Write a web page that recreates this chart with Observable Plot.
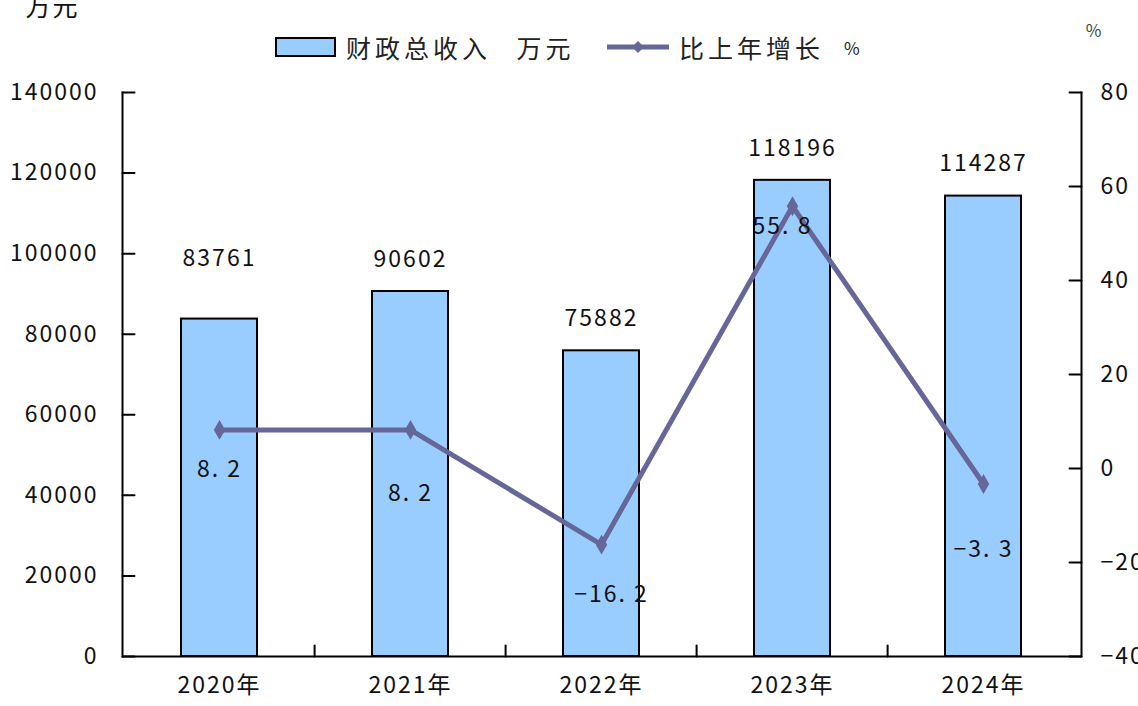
<!DOCTYPE html>
<html>
<head>
<meta charset="utf-8">
<script src="https://cdn.jsdelivr.net/npm/d3@7"></script>
<script src="https://cdn.jsdelivr.net/npm/@observablehq/plot@0.6"></script>
<style>
  body { margin: 0; background: #fff; }
  #wrap { position: relative; width: 1138px; height: 706px; overflow: hidden;
          font-family: "Noto Sans CJK SC", "DejaVu Sans", sans-serif; color: #111; }
  #wrap svg { position: absolute; left: 0; top: 0; }
  .leg { position: absolute; top: 31px; height: 32px; display: flex; align-items: center;
         font-size: 25px; letter-spacing: 4px; word-spacing: 16px; color: #222; z-index: 2; white-space: pre; }
</style>
</head>
<body>
<div id="wrap">
  <div class="leg" style="left:275px;">
    <span style="display:inline-block;width:57px;height:16px;background:#99CCFF;border:2px solid #000;margin-right:10px;"></span>
    <span id="leg1"></span>
  </div>
  <div class="leg" style="left:605px;">
    <svg width="66" height="20" style="position:static;margin-right:8px;">
      <line x1="2" y1="10" x2="64" y2="10" stroke="#666699" stroke-width="5"/>
      <path d="M33,4 L39,10 L33,16 L27,10 Z" fill="#666699"/>
    </svg>
    <span id="leg2"></span><span id="leg2u" style="font-size:17px;margin-left:20px;"></span>
  </div>
</div>
<script>
// ---- data ----
const years = ["2020年", "2021年", "2022年", "2023年", "2024年"];
const revenue = [83761, 90602, 75882, 118196, 114287];   // 财政总收入 万元
const growth = [8.2, 8.2, -16.2, 55.8, -3.3];            // 比上年增长 %
const leftTicks = [0, 20000, 40000, 60000, 80000, 100000, 120000, 140000];
const rightTicks = [-40, -20, 0, 20, 40, 60, 80];
const seriesNames = ["财政总收入 万元", "比上年增长", "%"];
const unitLeft = "万元";
const unitRight = "%";

document.getElementById("leg1").textContent = seriesNames[0];
document.getElementById("leg2").textContent = seriesNames[1];
document.getElementById("leg2u").textContent = seriesNames[2];

const yMax = leftTicks[leftTicks.length - 1];
const pMin = rightTicks[0], pMax = rightTicks[rightTicks.length - 1];
const toY = p => (p - pMin) / (pMax - pMin) * yMax;
const fromY = v => Math.round(v / yMax * (pMax - pMin) + pMin);
const fmt = d3.format("d");

const data = years.map((year, i) => ({year, revenue: revenue[i], growth: growth[i], i}));
const pctLabel = v => fmt(Math.trunc(v)).replace(/^0$/, v < 0 ? "−0" : "0") + ". " + String(Math.round(Math.abs(v) * 10) % 10);

const lineColor = "#666699";
const tickShape = {draw(context, l) { context.moveTo(0, 0); context.lineTo(0, -l); }};
const W = 1138, H = 706, mL = 122, mR = 57, mT = 92, mB = 50;
const step = (W - mL - mR) / years.length;

// per-label offsets (style)
const growthLabelOffsets = [[0, 40], [0, 64], [10, 50], [-10, 20], [0, 66]];

const marks = [
  Plot.barY(data, {x: "year", y: "revenue", fill: "#99CCFF", stroke: "#000", strokeWidth: 2}),
  Plot.ruleY([0], {stroke: "#000", strokeWidth: 2}),
  Plot.frame({anchor: "left", stroke: "#000", strokeWidth: 2}),
  Plot.frame({anchor: "right", stroke: "#000", strokeWidth: 2}),
  // inward ticks
  Plot.vector(leftTicks, {y: d => d, frameAnchor: "left", rotate: 90, length: 12, anchor: "start", shape: tickShape, stroke: "#000", strokeWidth: 2}),
  Plot.vector(rightTicks, {y: d => toY(d), frameAnchor: "right", rotate: -90, length: 12, anchor: "start", shape: tickShape, stroke: "#000", strokeWidth: 2}),
  Plot.vector(years.slice(1), {x: d => d, y: 0, dx: -step / 2, rotate: 0, length: 11, anchor: "start", shape: tickShape, stroke: "#000", strokeWidth: 2}),
  // axes labels
  Plot.axisY({anchor: "left", ticks: leftTicks, tickSize: 0, tickPadding: 24, tickFormat: d => String(d), label: null}),
  Plot.axisY({anchor: "right", ticks: rightTicks.map(toY), tickSize: 0, tickPadding: 19, tickFormat: v => fmt(fromY(v)), label: null}),
  Plot.axisX({tickSize: 0, tickPadding: 20, label: null}),
  // line
  Plot.line(data, {x: "year", y: d => toY(d.growth), stroke: lineColor, strokeWidth: 5}),
  Plot.dot(data, {x: "year", y: d => toY(d.growth), symbol: "diamond", r: 6, fill: lineColor}),
  // bar value labels
  Plot.text(data.filter(d => d.i === 0), {x: "year", y: "revenue", text: d => String(d.revenue), dy: -60}),
  Plot.text(data.filter(d => d.i > 0), {x: "year", y: "revenue", text: d => String(d.revenue), dy: -32}),
  // growth labels
  ...data.map(d => Plot.text([d], {x: "year", y: e => toY(e.growth), text: e => pctLabel(e.growth),
    dx: growthLabelOffsets[d.i][0], dy: growthLabelOffsets[d.i][1]})),
  // unit labels
  Plot.text([unitLeft], {frameAnchor: "top-left", dx: -97, dy: -94, text: d => d, fontSize: 25}),
  Plot.text([unitRight], {frameAnchor: "top-right", dx: 22, dy: -68, text: d => d, fontSize: 17, fill: "#444"})
];

const chart = Plot.plot({
  width: W, height: H,
  marginLeft: mL, marginRight: mR, marginTop: mT, marginBottom: mB,
  x: {domain: years, paddingInner: 0.6, paddingOuter: 0.3, axis: null},
  y: {domain: [0, yMax], axis: null},
  style: {fontFamily: '"Noto Sans CJK SC", "DejaVu Sans", sans-serif', fontSize: "23px", letterSpacing: "2px", color: "#111", background: "#fff", overflow: "visible"},
  marks
});
document.getElementById("wrap").appendChild(chart);
</script>
</body>
</html>
